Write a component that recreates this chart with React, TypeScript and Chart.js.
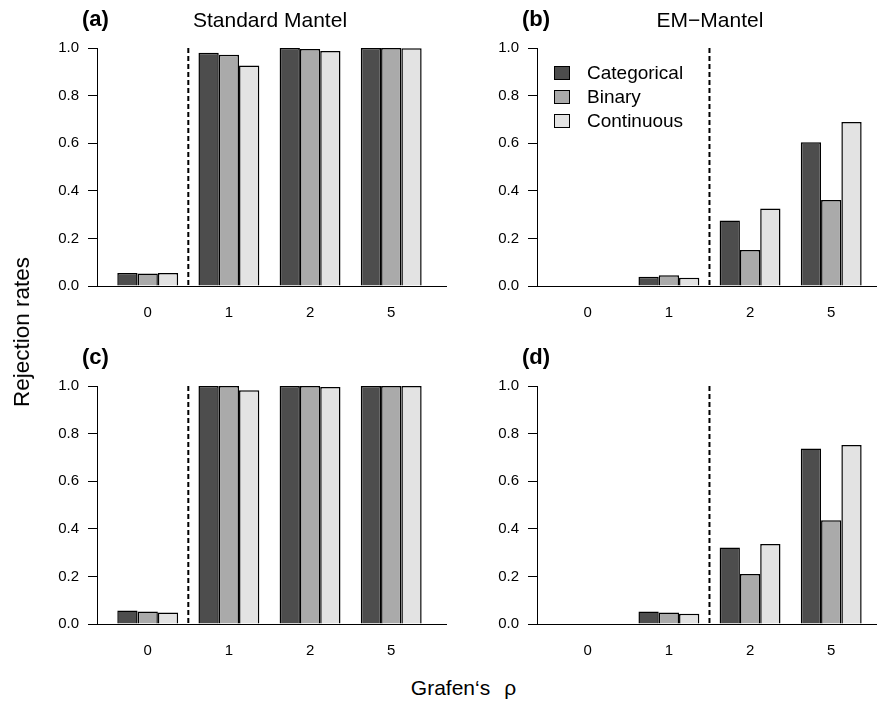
import React, { useEffect, useRef } from "react";
import { Chart, registerables } from "chart.js";

Chart.register(...registerables);

const FONT = "'Liberation Sans', Arial, Helvetica, sans-serif";

// Grafen's rho levels on the x axis
const categories = ["0", "1", "2", "5"];
const seriesNames = ["Categorical", "Binary", "Continuous"];
const seriesColors = ["#4d4d4d", "#aaaaaa", "#e3e3e3"];
const yTicks = [0, 0.2, 0.4, 0.6, 0.8, 1.0];

// (a) Standard Mantel, top row
const aCategorical = [0.055, 0.98, 1.0, 1.0];
const aBinary = [0.053, 0.972, 0.996, 1.0];
const aContinuous = [0.055, 0.926, 0.987, 0.999];

// (b) EM-Mantel, top row
const bCategorical = [0.0, 0.039, 0.275, 0.604];
const bBinary = [0.0, 0.045, 0.151, 0.361];
const bContinuous = [0.0, 0.035, 0.326, 0.689];

// (c) Standard Mantel, bottom row
const cCategorical = [0.057, 1.0, 1.0, 1.0];
const cBinary = [0.053, 1.0, 1.0, 1.0];
const cContinuous = [0.048, 0.982, 0.996, 1.0];

// (d) EM-Mantel, bottom row
const dCategorical = [0.0, 0.053, 0.321, 0.737];
const dBinary = [0.0, 0.048, 0.21, 0.436];
const dContinuous = [0.0, 0.043, 0.336, 0.752];

type Panel = {
  letter: string;
  title: string;
  series: number[][];
  dividerAfter: number; // dashed line sits after this category index
  legend: boolean;
  left: number;
  top: number;
};

const panels: Panel[] = [
  { letter: "(a)", title: "Standard Mantel", series: [aCategorical, aBinary, aContinuous], dividerAfter: 0, legend: false, left: 0, top: 0 },
  { letter: "(b)", title: "EM\u2212Mantel", series: [bCategorical, bBinary, bContinuous], dividerAfter: 1, legend: true, left: 440, top: 0 },
  { letter: "(c)", title: "", series: [cCategorical, cBinary, cContinuous], dividerAfter: 0, legend: false, left: 0, top: 338 },
  { letter: "(d)", title: "", series: [dCategorical, dBinary, dContinuous], dividerAfter: 1, legend: false, left: 440, top: 338 },
];

// barplot units: each group is 3 bars wide with one bar-width gap before it
const groupCenter = (i: number) => 4 * i + 2.5;
const dividerPos = (after: number) => 4 * (after + 1) + 0.5;
const X_MAX = 17.2;

const CANVAS_W = 450;
const CANVAS_H = 338;

const decorPlugin = {
  id: "panelDecor",
  afterDatasetsDraw(chart: any, _args: any, opts: any) {
    const { ctx, chartArea } = chart;
    const x = chart.scales.x;
    const y = chart.scales.y;
    ctx.save();

    // dashed separator between null and alternative scenarios
    const xd = x.getPixelForValue(dividerPos(opts.dividerAfter));
    ctx.strokeStyle = "#000";
    ctx.lineWidth = 2;
    ctx.setLineDash([5, 3]);
    ctx.beginPath();
    ctx.moveTo(xd, y.getPixelForValue(1));
    ctx.lineTo(xd, y.getPixelForValue(0));
    ctx.stroke();
    ctx.setLineDash([]);

    // panel letter and title
    ctx.fillStyle = "#000";
    ctx.textBaseline = "alphabetic";
    ctx.textAlign = "left";
    ctx.font = `bold 22px ${FONT}`;
    ctx.fillText(opts.letter, chartArea.left - 15, 26);
    if (opts.title) {
      ctx.textAlign = "center";
      ctx.font = `21px ${FONT}`;
      ctx.fillText(opts.title, chartArea.left + 173, 27);
    }

    // legend box
    if (opts.legend) {
      const rows = [73, 97, 121];
      ctx.font = `19px ${FONT}`;
      ctx.textAlign = "left";
      ctx.textBaseline = "middle";
      ctx.lineWidth = 1;
      seriesNames.forEach((name, i) => {
        const bx = chartArea.left + 17.5;
        const by = rows[i] - 6.5;
        ctx.fillStyle = seriesColors[i];
        ctx.fillRect(bx, by, 15, 13);
        ctx.strokeStyle = "#000";
        ctx.strokeRect(bx, by, 15, 13);
        ctx.fillStyle = "#000";
        ctx.fillText(name, chartArea.left + 50, rows[i] + 1);
      });
    }
    ctx.restore();
  },
};

function PanelChart({ panel }: { panel: Panel }) {
  const ref = useRef<HTMLCanvasElement | null>(null);

  useEffect(() => {
    if (!ref.current) return;
    const chart = new Chart(ref.current, {
      type: "bar",
      data: {
        datasets: panel.series.map((vals, s) => ({
          label: seriesNames[s],
          data: vals.map((v, i) => ({ x: groupCenter(i), y: v })),
          backgroundColor: seriesColors[s],
          borderColor: "#000",
          borderWidth: 1.5,
          categoryPercentage: 0.75,
          barPercentage: 1,
        })),
      },
      options: {
        animation: false,
        responsive: false,
        devicePixelRatio: 1,
        events: [],
        layout: { padding: { top: 48, right: 4, left: 0, bottom: 0 } },
        plugins: {
          legend: { display: false },
          tooltip: { enabled: false },
          panelDecor: {
            letter: panel.letter,
            title: panel.title,
            dividerAfter: panel.dividerAfter,
            legend: panel.legend,
          },
        } as any,
        scales: {
          x: {
            type: "linear",
            min: 0,
            max: X_MAX,
            bounds: "data",
            offset: false,
            afterBuildTicks: (s: any) => {
              s.ticks = categories.map((_, i) => ({ value: groupCenter(i) }));
            },
            afterFit: (s: any) => {
              s.height = CANVAS_H - 286;
            },
            grid: { display: false, drawTicks: false, offset: false },
            border: { display: true, color: "#000", width: 1 },
            ticks: {
              autoSkip: false,
              maxRotation: 0,
              padding: 18,
              color: "#000",
              font: { family: FONT, size: 15 },
              callback: (_v: any, i: number) => categories[i],
            },
          },
          y: {
            type: "linear",
            min: 0,
            max: 1,
            afterBuildTicks: (s: any) => {
              s.ticks = yTicks.map((v) => ({ value: v }));
            },
            afterFit: (s: any) => {
              s.width = 97;
            },
            grid: { drawOnChartArea: false, drawTicks: true, tickLength: 9, color: "#000", lineWidth: 1 },
            border: { display: true, color: "#000", width: 1 },
            ticks: {
              padding: 9,
              color: "#000",
              font: { family: FONT, size: 15 },
              callback: (v: any) => Number(v).toFixed(1),
            },
          },
        },
      } as any,
      plugins: [decorPlugin],
    });
    return () => chart.destroy();
  }, [panel]);

  return (
    <canvas
      ref={ref}
      width={CANVAS_W}
      height={CANVAS_H}
      style={{ position: "absolute", left: panel.left, top: panel.top, width: CANVAS_W, height: CANVAS_H }}
    />
  );
}

export default function App() {
  return (
    <div
      style={{
        position: "absolute",
        left: 0,
        top: 0,
        width: 877,
        height: 706,
        overflow: "hidden",
        background: "#fff",
        fontFamily: FONT,
      }}
    >
      {panels.map((p) => (
        <PanelChart key={p.letter} panel={p} />
      ))}
      <div
        style={{
          position: "absolute",
          left: 21.5,
          top: 332,
          transform: "translate(-50%, -50%) rotate(-90deg)",
          fontSize: 22.5,
          lineHeight: "22px",
          whiteSpace: "nowrap",
          color: "#000",
        }}
      >
        Rejection rates
      </div>
      <div
        style={{
          position: "absolute",
          left: 463.5,
          top: 677,
          transform: "translateX(-50%)",
          fontSize: 21,
          lineHeight: "21px",
          whiteSpace: "nowrap",
          color: "#000",
        }}
      >
        Grafen‘s<span style={{ marginLeft: 14 }}>ρ</span>
      </div>
    </div>
  );
}
